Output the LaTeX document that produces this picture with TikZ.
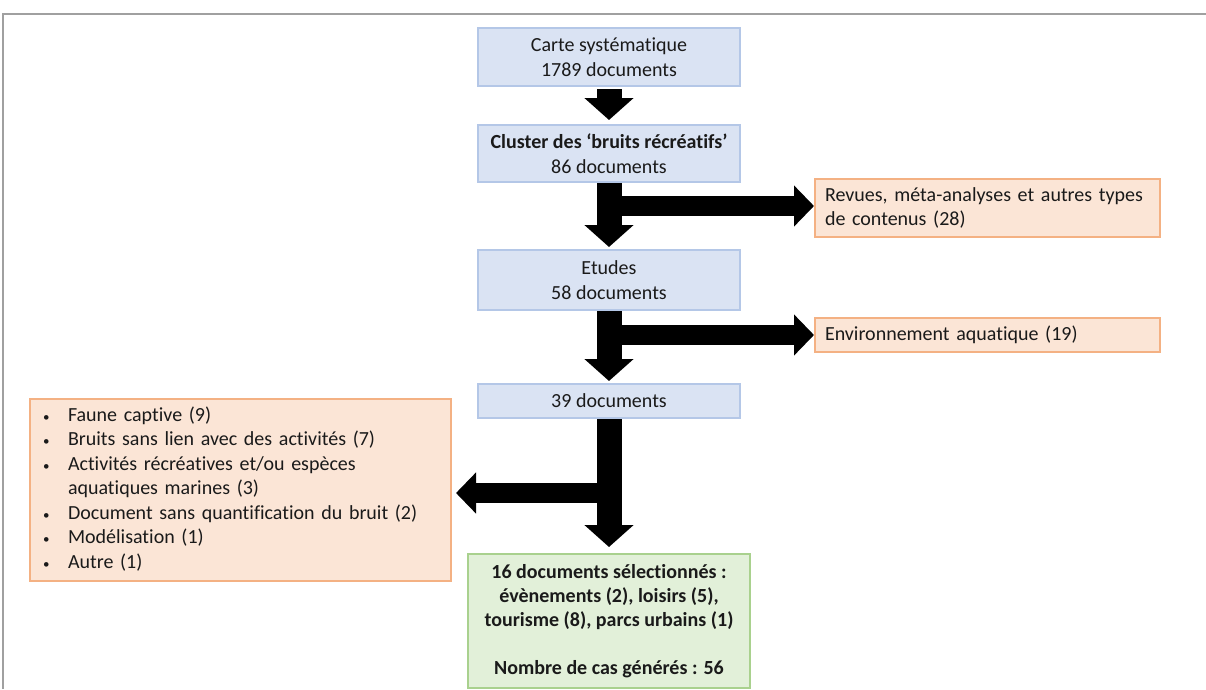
\documentclass[tikz,border=0pt]{standalone}
\usepackage{fontspec}
\setmainfont{Carlito}[Ligatures=NoCommon]
\usetikzlibrary{arrows.meta}
\definecolor{bfill}{HTML}{DAE3F3}
\definecolor{bdraw}{HTML}{B4C7E7}
\definecolor{ofill}{HTML}{FBE5D6}
\definecolor{odraw}{HTML}{F4B183}
\definecolor{gfill}{HTML}{E2F0D9}
\definecolor{gdraw}{HTML}{A9D18E}
\definecolor{frame}{HTML}{A0A0A0}
\definecolor{txt}{HTML}{1A1A1A}
\newcommand{\bul}{{\fontsize{13}{13}\selectfont\textbullet}}
\begin{document}
\begin{tikzpicture}[x=1pt,y=-1pt,
  every node/.style={font=\fontsize{20}{24.5}\selectfont, text=txt},
  bbox/.style={draw=bdraw, fill=bfill, line width=2pt, minimum width=262pt, align=center, inner sep=0pt},
  obox/.style={draw=odraw, fill=ofill, line width=2pt, align=left, inner sep=0pt},
  gbox/.style={draw=gdraw, fill=gfill, line width=2pt, align=center, inner sep=0pt, minimum width=282pt, minimum height=134pt, font=\fontsize{20}{24}\selectfont\bfseries},
  varrow/.style={line width=25pt, -{Triangle[length=22pt,width=48pt]}},
  harrow/.style={line width=20pt, -{Triangle[length=20pt,width=40pt]}}
]
\useasboundingbox (0,0) rectangle (1206,689);
\draw[frame, line width=2pt] (3,689) -- (3,14) -- (1206,14);

\node[bbox, minimum height=58pt] (c1) at (609,57) {Carte systématique\\1789 documents};
\node[bbox, minimum height=57pt] (c2) at (609,153.5) {\textbf{Cluster des ‘bruits récréatifs’}\\86 documents};
\node[obox, minimum width=345pt, minimum height=58pt, text width=325pt] (r) at (987.5,208) {Revues, méta-analyses et autres types\\de contenus (28)};
\node[bbox, minimum height=60pt] (c4) at (609,280) {Etudes\\58 documents};
\node[obox, minimum width=345pt, minimum height=34pt, text width=325pt] (e) at (987.5,335) {Environnement aquatique (19)};
\node[bbox, minimum height=34pt] (c6) at (609,401) {39 documents};
\node[obox, minimum width=421pt, minimum height=182pt, text width=395pt] (l) at (240.5,490) {%
\begin{tabular}{@{}p{25pt}@{}l@{}}
\bul & Faune captive (9)\\
\bul & Bruits sans lien avec des activités (7)\\
\bul & Activités récréatives et/ou espèces\\
 & aquatiques marines (3)\\
\bul & Document sans quantification du bruit (2)\\
\bul & Modélisation (1)\\
\bul & Autre (1)
\end{tabular}};
\node[gbox] (g) at (609,621) {16 documents sélectionnés :\\évènements (2), loisirs (5),\\tourisme (8), parcs urbains (1)\\[24pt]Nombre de cas générés : 56};

\draw[varrow, shorten <=2pt, shorten >=4pt] (c1.south) -- (c2.north);
\draw[varrow, shorten >=2pt] (c2.south) -- (c4.north);
\draw[harrow] (c2.south |- 0,206) -- (r.west |- 0,206);
\draw[varrow, shorten >=2pt] (c4.south) -- (c6.north);
\draw[harrow] (c4.south |- e.west) -- (e.west);
\draw[varrow, shorten >=6pt] (c6.south) -- (g.north);
\draw[harrow, shorten >=4pt] (c6.south |- 0,493) -- (l.east |- 0,493);
\end{tikzpicture}
\end{document}
